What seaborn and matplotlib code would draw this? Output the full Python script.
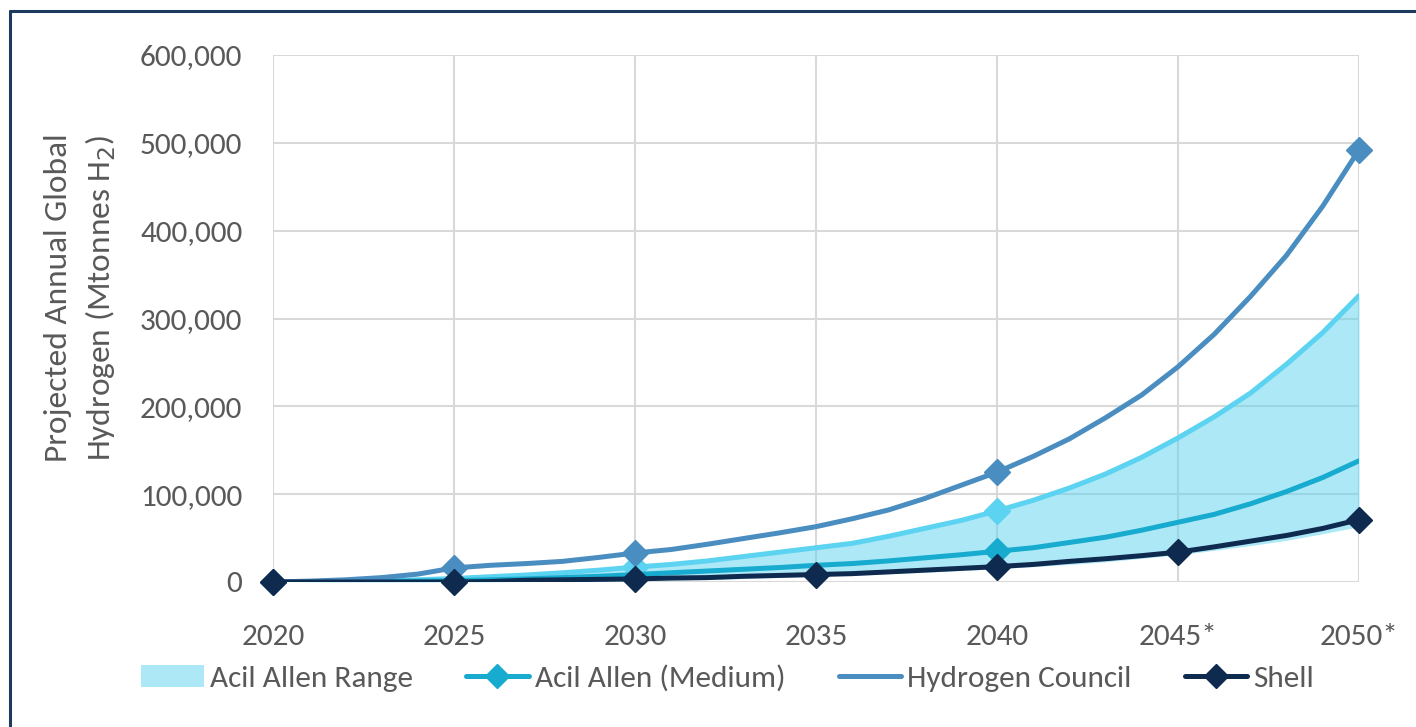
import matplotlib
matplotlib.use("Agg")
import matplotlib.pyplot as plt
import seaborn as sns
import pandas as pd
from matplotlib.lines import Line2D
from matplotlib.patches import Patch

years = list(range(2020, 2051))
hydrogen_council = [0, 1000, 2500, 5000, 9000, 16000, 19000, 21000, 23500, 28000,
                    33000, 37000, 43000, 49500, 56000, 63000, 72000, 82000, 95000, 110000,
                    125000, 143000, 163000, 187000, 213000, 245000, 282000, 325000, 372000, 428000,
                    492000]
acil_high = [0, 300, 700, 1500, 2500, 4000, 6000, 8000, 10500, 13500,
             17000, 20000, 24000, 29000, 34000, 39000, 44000, 52000, 61000, 70000,
             81000, 93000, 107000, 123000, 142000, 164000, 188000, 215000, 248000, 284000,
             326000]
acil_medium = [0, 200, 400, 700, 1000, 1500, 2500, 3500, 5000, 6500,
               8500, 10500, 12500, 14500, 16500, 19000, 21000, 24000, 27500, 31000,
               35000, 39000, 45000, 51000, 59000, 68000, 77000, 89000, 103000, 119000,
               138000]
acil_low = [0, 0, 0, 0, 0, 0, 200, 500, 800, 1100,
            1500, 2200, 3000, 4000, 5200, 6500, 8000, 9500, 11000, 13000,
            15000, 17500, 20000, 23000, 27000, 31000, 36000, 41500, 47500, 55000,
            63000]
shell = [0, 0, 0, 0, 0, 0, 500, 2000, 2500, 3000,
         3500, 4500, 5000, 6500, 7500, 8500, 9500, 11500, 13500, 15500,
         17500, 20000, 23500, 26500, 30000, 34000, 40000, 46500, 53000, 61000,
         71000]

hc_marker_years = [2020, 2025, 2030, 2040, 2050]
high_marker_years = [2030, 2040]
medium_marker_years = [2040]
shell_marker_years = [2020, 2025, 2030, 2035, 2040, 2045, 2050]

x_ticks = [2020, 2025, 2030, 2035, 2040, 2045, 2050]
x_tick_labels = ["2020", "2025", "2030", "2035", "2040", "2045*", "2050*"]
y_ticks = [0, 100000, 200000, 300000, 400000, 500000, 600000]

legend_labels = ["Acil Allen Range", "Acil Allen (Medium)", "Hydrogen Council", "Shell"]

C_HC = "#4A8DC0"
C_HIGH = "#5CD3F0"
C_MED = "#17ABCF"
C_SHELL = "#0F2A4F"
C_TEXT = "#595959"

df = pd.DataFrame({"year": years, "hc": hydrogen_council, "high": acil_high,
                   "med": acil_medium, "low": acil_low, "shell": shell})

sns.set_style("white")
plt.rcParams["font.family"] = ["Carlito", "IBM Plex Sans Condensed", "DejaVu Sans"]

fig = plt.figure(figsize=(14.16, 7.27), dpi=100)
ax = fig.add_axes([273 / 1416, 1 - 582 / 727, (1359 - 273) / 1416, (582 - 55) / 727])

ax.fill_between(df["year"], df["low"], df["high"], color=C_HIGH, alpha=0.5, lw=0, zorder=2)
lw = 3.6
sns.lineplot(data=df, x="year", y="high", ax=ax, color=C_HIGH, lw=lw, zorder=3)
sns.lineplot(data=df, x="year", y="med", ax=ax, color=C_MED, lw=lw, zorder=4)
sns.lineplot(data=df, x="year", y="hc", ax=ax, color=C_HC, lw=lw, zorder=5)
sns.lineplot(data=df, x="year", y="shell", ax=ax, color=C_SHELL, lw=lw, zorder=6)

def mark(col, yrs, color, z):
    sub = df[df["year"].isin(yrs)]
    ax.plot(sub["year"], sub[col], ls="none", marker="D", ms=13, color=color,
            zorder=z, clip_on=False)

mark("high", high_marker_years, C_HIGH, 3.5)
mark("med", medium_marker_years, C_MED, 4.5)
mark("hc", hc_marker_years, C_HC, 5.5)
mark("shell", shell_marker_years, C_SHELL, 6.5)

ax.set_xlim(2020, 2050)
ax.set_ylim(0, 600000)
ax.set_xticks(x_ticks)
ax.set_xticklabels(x_tick_labels)
ax.set_yticks(y_ticks)
ax.set_yticklabels([f"{v:,}" for v in y_ticks])
ax.grid(True, color="#D9D9D9", lw=1.5, zorder=0)
ax.set_axisbelow(True)
for s in ax.spines.values():
    s.set_visible(False)
ax.tick_params(axis="both", length=0, labelsize=22.5, labelcolor=C_TEXT)
ax.tick_params(axis="x", pad=30)
ax.tick_params(axis="y", pad=22)
ax.set_xlabel("")
ax.set_ylabel("Projected Annual Global\nHydrogen (Mtonnes H$_2$)", fontsize=24,
              color=C_TEXT, linespacing=1.4)
ax.yaxis.set_label_coords(-0.143, 0.54)

handles = [
    Patch(facecolor=C_HIGH, alpha=0.5, edgecolor="none"),
    Line2D([], [], color=C_MED, lw=lw, marker="D", ms=12),
    Line2D([], [], color=C_HC, lw=lw),
    Line2D([], [], color=C_SHELL, lw=lw, marker="D", ms=12),
]
fig.legend(handles, legend_labels, loc="center", bbox_to_anchor=(0.514, 0.067),
           ncol=4, frameon=False, fontsize=22.5, labelcolor=C_TEXT,
           handlelength=2.0, handletextpad=0.2, columnspacing=1.7)

fig.add_artist(Line2D([10 / 1416, 10 / 1416], [0, 1 - 11 / 727], color="#1F3A5F",
                      lw=2.2, transform=fig.transFigure))
fig.add_artist(Line2D([10 / 1416, 1], [1 - 11 / 727, 1 - 11 / 727], color="#1F3A5F",
                      lw=2.2, transform=fig.transFigure))

fig.savefig("out.png", dpi=100)
